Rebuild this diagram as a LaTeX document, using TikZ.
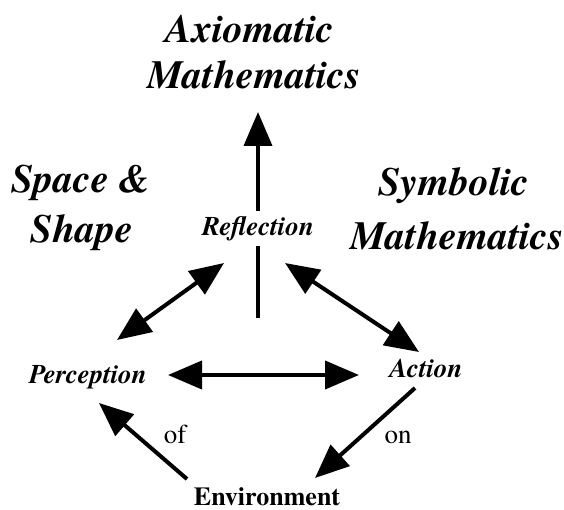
\documentclass[tikz,border=0pt]{standalone}
\usepackage{fontspec}
\setmainfont{texgyretermes}[Extension=.otf, UprightFont=*-regular, BoldFont=*-bold, ItalicFont=*-italic, BoldItalicFont=*-bolditalic]
\usetikzlibrary{arrows.meta}
\begin{document}
\begin{tikzpicture}[x=1pt,y=-1pt,
  big/.style={font=\fontsize{40}{46}\selectfont\bfseries\itshape, inner sep=0pt, anchor=base},
  mid/.style={font=\fontsize{27}{31}\selectfont\bfseries\itshape, inner sep=0pt, anchor=base},
  env/.style={font=\fontsize{26}{30}\selectfont\bfseries, inner sep=0pt, anchor=base},
  lab/.style={font=\fontsize{27}{31}\selectfont, inner sep=0pt, anchor=base},
  conn/.style={line width=4pt},
  arr/.style={line width=4pt, -{Triangle[length=34pt,width=28pt]}},
  dbl/.style={line width=4pt, {Triangle[length=34pt,width=28pt]}-{Triangle[length=34pt,width=28pt]}}]
\useasboundingbox (0,0) rectangle (564,510);
% titles
\node[big] (ax1) at (250,43) {Axiomatic};
\node[big] (ax2) at (254,89) {Mathematics};
\node[big] (sp1) at (81,193) {Space \&};
\node[big] (sp2) at (82,243) {Shape};
\node[big] (sy1) at (454,196) {Symbolic};
\node[big] (sy2) at (457,250) {Mathematics};
% main nodes
\node[mid] (refl) at (258,236) {Reflection};
\node[mid] (perc) at (88,383) {Perception};
\node[mid] (act) at (426,377) {Action};
\node[env] (envn) at (267,505) {Environment};
\node[lab] (of) at (175,443) {of};
\node[lab] (on) at (398,443) {on};
% connector ends
\coordinate (vbot) at (258,318);
\coordinate (vtop) at (258,112);
\coordinate (pr1) at (117,340);
\coordinate (pr2) at (224,263);
\coordinate (ra1) at (285,263);
\coordinate (ra2) at (419,352);
\coordinate (pa1) at (168,375);
\coordinate (pa2) at (359,375);
\coordinate (ae1) at (415,388);
\coordinate (ae2) at (315,478);
\coordinate (ep1) at (187,479);
\coordinate (ep2) at (99,403);
% connectors
\draw[conn, shorten >=10pt] (vbot) -- (refl.base);
\draw[arr, shorten <=25pt] (refl.base) -- (vtop);
\draw[dbl] (pr1) -- (pr2);
\draw[dbl] (ra1) -- (ra2);
\draw[dbl] (pa1) -- (pa2);
\draw[arr] (ae1) -- (ae2);
\draw[arr] (ep1) -- (ep2);
\end{tikzpicture}
\end{document}
